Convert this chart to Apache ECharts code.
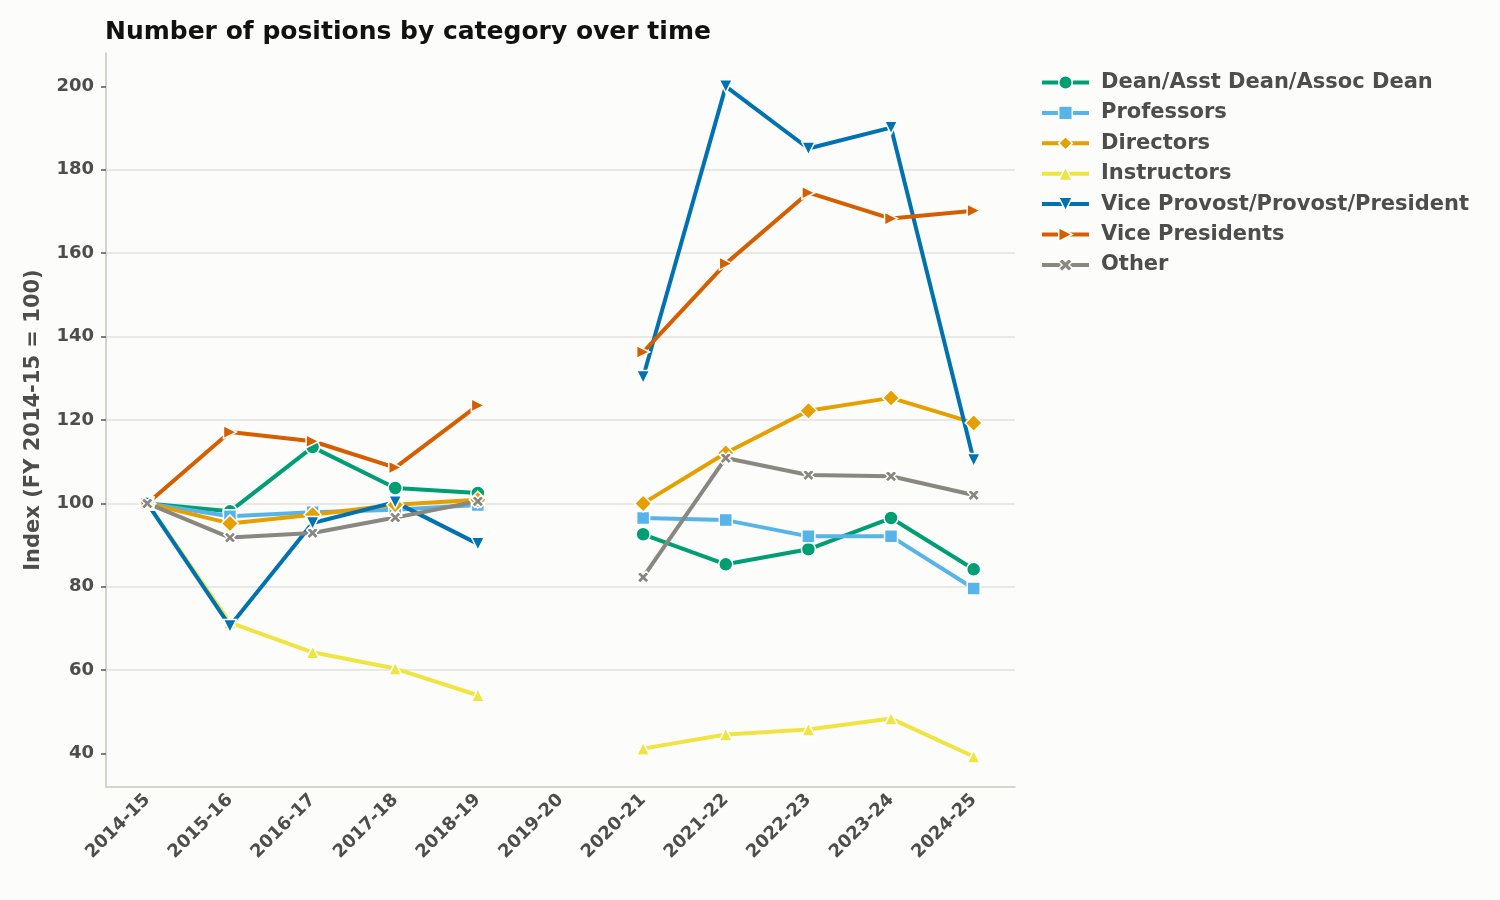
<!DOCTYPE html>
<html lang="en">
<head>
	<meta charset="UTF-8">
	<title>Number of positions by category over time</title>
	<script src="https://cdn.jsdelivr.net/npm/echarts@6/dist/echarts.min.js"></script>
	<style>
		html, body { margin: 0; padding: 0; background: #fcfcfa; }
		#chart { width: 1500px; height: 900px; }
	</style>
</head>
<body>
	<div id="chart"></div>

	<script>
	/* 데이터 */
	var years = ['2014-15', '2015-16', '2016-17', '2017-18', '2018-19', '2019-20', '2020-21', '2021-22', '2022-23', '2023-24', '2024-25'];
	var yTicks = [40, 60, 80, 100, 120, 140, 160, 180, 200];

	var deanData       = [100, 98.1, 113.5, 103.7, 102.5, null, 92.6, 85.4, 89.0, 96.5, 84.2];
	var professorData  = [100, 96.9, 97.9, 98.5, 99.6, null, 96.5, 96.0, 92.1, 92.1, 79.6];
	var directorData   = [100, 95.2, 97.3, 99.7, 100.9, null, 100, 112.1, 122.2, 125.3, 119.3];
	var instructorData = [100, 71.4, 64.3, 60.4, 54.0, null, 41.2, 44.6, 45.8, 48.4, 39.3];
	var provostData    = [100, 70.6, 95.3, 100.3, 90.3, null, 130.3, 200, 185.1, 190.1, 110.4];
	var vpData         = [100, 117.1, 114.9, 108.6, 123.5, null, 136.3, 157.5, 174.5, 168.3, 170.2];
	var otherData      = [100, 91.8, 92.9, 96.6, 100.5, null, 82.3, 110.9, 106.8, 106.5, 102.0];

	var xMark = 'path://M2.5,0 L5,2.5 L7.5,0 L10,2.5 L7.5,5 L10,7.5 L7.5,10 L5,7.5 L2.5,10 L0,7.5 L2.5,5 L0,2.5 Z';
	var downTri = 'path://M0,0 L10,0 L5,9 Z';
	var rightTri = 'path://M0,0 L9,5 L0,10 Z';

	function makeSeries(name, data, color, symbol, size) {
		return {
			name: name,
			type: 'line',
			data: data,
			connectNulls: false,
			symbol: symbol,
			symbolSize: size,
			showAllSymbol: true,
			lineStyle: { color: color, width: 4 },
			itemStyle: { color: color, borderColor: '#ffffff', borderWidth: 1.5 },
			emphasis: { disabled: true }
		};
	}

	var chart = echarts.init(document.getElementById('chart'));
	var option = {
		backgroundColor: '#fcfcfa',
		animation: false,
		title: {
			text: 'Number of positions by category over time',
			left: 100,
			top: 15,
			textStyle: {
				color: '#111',
				fontFamily: 'DejaVu Sans',
				fontSize: 25,
				fontWeight: 'bold'
			}
		},
		legend: {
			orient: 'vertical',
			left: 1035,
			top: 67,
			itemWidth: 47,
			itemHeight: 17,
			itemGap: 9.4,
			lineStyle: { width: 4 },
			itemStyle: { borderColor: '#ffffff', borderWidth: 1.5 },
			textStyle: {
				color: '#4d4d4d',
				fontFamily: 'DejaVu Sans',
				fontSize: 21,
				fontWeight: 'bold',
				padding: [0, 0, 0, 7]
			}
		},
		grid: {
			left: 106,
			right: 485,
			top: 53,
			bottom: 113,
			containLabel: false
		},
		xAxis: {
			type: 'category',
			data: years,
			boundaryGap: true,
			axisLine: { lineStyle: { color: '#c8c8bc', width: 1.5 } },
			axisTick: { alignWithLabel: true, length: 5, lineStyle: { color: '#555', width: 1.5 } },
			axisLabel: {
				rotate: 45,
				interval: 0,
				margin: 10,
				color: '#4d4d4d',
				fontFamily: 'DejaVu Sans',
				fontSize: 18,
				fontWeight: 'bold'
			},
			splitLine: { show: false }
		},
		yAxis: {
			type: 'value',
			min: 32,
			max: 208,
			name: 'Index (FY 2014-15 = 100)',
			nameLocation: 'middle',
			nameGap: 62,
			nameTextStyle: {
				color: '#4d4d4d',
				fontFamily: 'DejaVu Sans',
				fontSize: 21,
				fontWeight: 'bold'
			},
			axisLine: { show: true, lineStyle: { color: '#c8c8bc', width: 1.5 } },
			axisTick: { show: true, length: 5, customValues: yTicks, lineStyle: { color: '#555', width: 1.5 } },
			axisLabel: {
				customValues: yTicks,
				margin: 12,
				color: '#4d4d4d',
				fontFamily: 'DejaVu Sans',
				fontSize: 18,
				fontWeight: 'bold'
			},
			splitLine: { show: true, showMinLine: false, showMaxLine: false, lineStyle: { color: '#e2e2dc', width: 1.5 } }
		},
		series: [
			makeSeries('Dean/Asst Dean/Assoc Dean', deanData, '#009e73', 'circle', 14),
			makeSeries('Professors', professorData, '#56b4e9', 'rect', 13),
			makeSeries('Directors', directorData, '#e69f00', 'diamond', 17),
			makeSeries('Instructors', instructorData, '#f0e442', 'triangle', 13),
			makeSeries('Vice Provost/Provost/President', provostData, '#0072b2', downTri, 13),
			makeSeries('Vice Presidents', vpData, '#d55e00', rightTri, 13),
			makeSeries('Other', otherData, '#888780', xMark, 12)
		]
	};
	chart.setOption(option);
	</script>
</body>
</html>
